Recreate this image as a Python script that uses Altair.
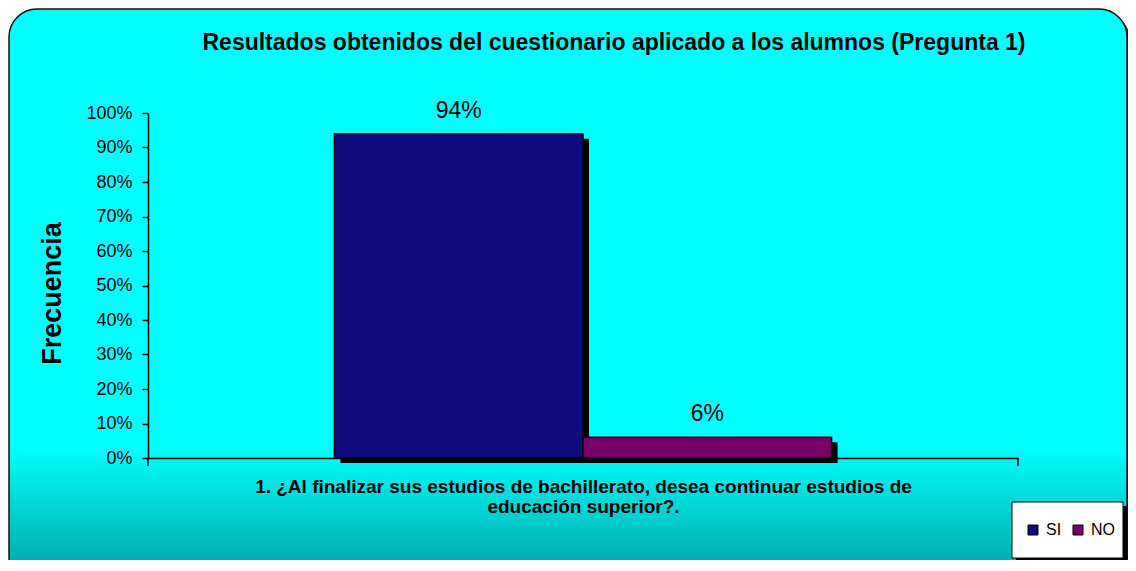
import altair as alt
import pandas as pd

# ---------------- data ----------------
titulo = "Resultados obtenidos del cuestionario aplicado a los alumnos (Pregunta 1)"
pregunta_lineas = [
    "1.  ¿Al finalizar sus estudios de bachillerato, desea continuar estudios de",
    "educación superior?.",
]
respuestas = ["SI", "NO"]
valores = [0.94, 0.06]
etiquetas = ["94%", "6%"]
colores = ["#0E0B7E", "#760068"]
ticks_y = [0.0, 0.1, 0.2, 0.3, 0.4, 0.5, 0.6, 0.7, 0.8, 0.9, 1.0]
titulo_y = "Frecuencia"

df = pd.DataFrame({
    "respuesta": respuestas,
    "valor": valores,
    "etiqueta": etiquetas,
})
one = pd.DataFrame({"k": [0]})
df_title = pd.DataFrame({"t": [titulo]})

FONT = "Liberation Sans"
W, H = 870, 345

# ---------------- shared encodings ----------------
x_enc = alt.X(
    "respuesta:N",
    scale=alt.Scale(domain=respuestas, paddingInner=0, paddingOuter=0.75),
    axis=alt.Axis(
        labels=False, ticks=False,
        title=pregunta_lineas, titleFont=FONT, titleFontSize=19,
        titleFontWeight="bold", titleColor="black", titleLineHeight=20,
        titlePadding=19, titleBaseline="top",
        domainColor="black", domainWidth=1.5, zindex=2,
    ),
)
y_enc = alt.Y(
    "valor:Q",
    scale=alt.Scale(domain=[0, 1]),
    axis=alt.Axis(
        values=ticks_y, format="%", grid=False, title=titulo_y,
        titleFont=FONT, titleFontSize=27, titleFontWeight="bold",
        titleColor="black", titlePadding=19, titleY=180,
        labelFont=FONT, labelFontSize=18, labelColor="black", labelPadding=10,
        tickSize=6, tickColor="black", tickWidth=1.5,
        domainColor="black", domainWidth=1.5, zindex=2,
    ),
)

# ---------------- background frame ----------------
grad = alt.LinearGradient(
    gradient="linear", x1=0, y1=0, x2=0, y2=1,
    stops=[
        alt.GradientStop(color="#00FFFF", offset=0),
        alt.GradientStop(color="#00FFFF", offset=0.76),
        alt.GradientStop(color="#009E9E", offset=1),
    ],
)
frame_shadow = alt.Chart(one).mark_rect(cornerRadius=28, color="#111111").encode(
    x=alt.value(-136), x2=alt.value(982), y=alt.value(-101), y2=alt.value(475)
)
frame = alt.Chart(one).mark_rect(
    cornerRadius=28, fill=grad, stroke="#111111", strokeWidth=1.5
).encode(x=alt.value(-139), x2=alt.value(979), y=alt.value(-104), y2=alt.value(472))

title_mark = alt.Chart(df_title).mark_text(
    font=FONT, fontSize=23, fontWeight="bold", color="black", baseline="middle"
).encode(x=alt.value(466), y=alt.value(-70), text="t:N")

# end ticks of the category axis
end_ticks = alt.Chart(one).mark_rule(color="black", strokeWidth=1.5).encode(
    x=alt.value(W), y=alt.value(H), y2=alt.value(H + 8)
)
start_tick = alt.Chart(one).mark_rule(color="black", strokeWidth=1.5).encode(
    x=alt.value(0), y=alt.value(H), y2=alt.value(H + 8)
)

# ---------------- bars ----------------
bar_shadow = alt.Chart(df).mark_bar(
    color="black", xOffset=6, yOffset=5, y2Offset=-3
).encode(x=x_enc, y=y_enc)
bars = alt.Chart(df).mark_bar(stroke="black", strokeWidth=1.5).encode(
    x=x_enc, y=y_enc,
    color=alt.Color(
        "respuesta:N",
        scale=alt.Scale(domain=respuestas, range=colores),
        legend=alt.Legend(
            title=None, orient="none", legendX=877, legendY=409,
            direction="horizontal", symbolType="square", symbolSize=100,
            symbolStrokeColor="black", symbolStrokeWidth=1,
            labelFont=FONT, labelFontSize=16, labelColor="black",
            labelOffset=5, columnPadding=8, padding=0, zindex=3,
        ),
    ),
)
labels = alt.Chart(df).mark_text(
    dy=-16, fontSize=23, font=FONT, color="black", baseline="alphabetic"
).encode(x=x_enc, y=y_enc, text="etiqueta:N")

# ---------------- legend box ----------------
legend_shadow = alt.Chart(one).mark_rect(color="black").encode(
    x=alt.value(868), x2=alt.value(979), y=alt.value(393), y2=alt.value(449)
)
legend_box = alt.Chart(one).mark_rect(fill="white", stroke="black", strokeWidth=1).encode(
    x=alt.value(864), x2=alt.value(975), y=alt.value(389), y2=alt.value(445)
)

chart = alt.layer(
    frame_shadow, frame, title_mark, start_tick, end_ticks,
    bar_shadow, bars, labels, legend_shadow, legend_box
).properties(
    width=W, height=H,
    padding={"left": 140, "top": 105, "right": 110, "bottom": 102},
    autosize=alt.AutoSizeParams(type="none"),
).configure_view(stroke=None).configure(background="white")

chart.save("out.html", embed_options={"renderer": "svg", "actions": False})
